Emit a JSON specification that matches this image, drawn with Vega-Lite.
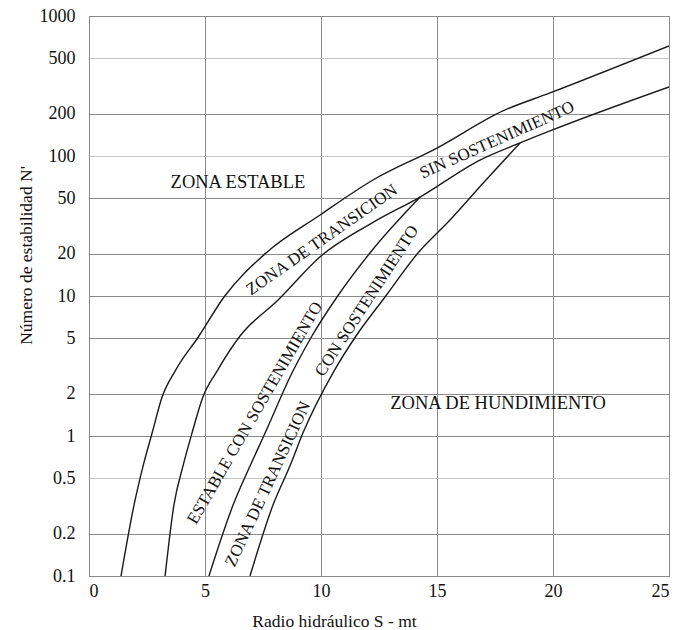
{
  "$schema": "https://vega.github.io/schema/vega-lite/v6.json",
  "autosize": {"type": "none"},
  "width": 580,
  "height": 560,
  "padding": {"left": 89, "top": 16, "right": 7, "bottom": 54},
  "background": "white",
  "config": {
    "font": "Liberation Serif",
    "view": {"stroke": "#666666", "strokeWidth": 1},
    "axis": {
      "labelFont": "Liberation Serif",
      "titleFont": "Liberation Serif",
      "labelFontSize": 18,
      "titleFontSize": 17.5,
      "labelColor": "#111111",
      "titleColor": "#111111",
      "titleFontWeight": "normal",
      "ticks": false,
      "domain": false,
      "gridColor": "#8a8a8a",
      "gridWidth": 1,
      "gridOpacity": 1
    }
  },
  "datasets": {
    "curves": [
      {"curve": "A", "i": 1, "x": 1.38, "y": 0.1},
      {"curve": "A", "i": 2, "x": 1.94, "y": 0.321},
      {"curve": "A", "i": 3, "x": 2.33, "y": 0.61},
      {"curve": "A", "i": 4, "x": 2.72, "y": 1.05},
      {"curve": "A", "i": 5, "x": 3.15, "y": 1.9},
      {"curve": "A", "i": 6, "x": 3.71, "y": 2.91},
      {"curve": "A", "i": 7, "x": 4.74, "y": 5.18},
      {"curve": "A", "i": 8, "x": 5.82, "y": 9.84},
      {"curve": "A", "i": 9, "x": 7.63, "y": 20.3},
      {"curve": "A", "i": 10, "x": 9.96, "y": 37.9},
      {"curve": "A", "i": 11, "x": 12.24, "y": 67.4},
      {"curve": "A", "i": 12, "x": 15.0, "y": 114},
      {"curve": "A", "i": 13, "x": 17.84, "y": 210},
      {"curve": "A", "i": 14, "x": 19.87, "y": 282},
      {"curve": "A", "i": 15, "x": 25.0, "y": 611},
      {"curve": "B", "i": 1, "x": 3.28, "y": 0.1},
      {"curve": "B", "i": 2, "x": 3.66, "y": 0.321},
      {"curve": "B", "i": 3, "x": 4.05, "y": 0.61},
      {"curve": "B", "i": 4, "x": 4.44, "y": 1.05},
      {"curve": "B", "i": 5, "x": 4.91, "y": 1.9},
      {"curve": "B", "i": 6, "x": 5.52, "y": 2.91},
      {"curve": "B", "i": 7, "x": 6.51, "y": 5.18},
      {"curve": "B", "i": 8, "x": 8.15, "y": 9.36},
      {"curve": "B", "i": 9, "x": 10.0, "y": 19.3},
      {"curve": "B", "i": 10, "x": 12.28, "y": 33.8},
      {"curve": "B", "i": 11, "x": 14.27, "y": 50.9},
      {"curve": "B", "i": 12, "x": 16.85, "y": 93.6},
      {"curve": "B", "i": 13, "x": 18.58, "y": 124},
      {"curve": "B", "i": 14, "x": 19.87, "y": 151},
      {"curve": "B", "i": 15, "x": 25.0, "y": 311},
      {"curve": "C", "i": 1, "x": 5.17, "y": 0.1},
      {"curve": "C", "i": 2, "x": 6.21, "y": 0.321},
      {"curve": "C", "i": 3, "x": 6.94, "y": 0.61},
      {"curve": "C", "i": 4, "x": 7.59, "y": 1.05},
      {"curve": "C", "i": 5, "x": 8.79, "y": 2.91},
      {"curve": "C", "i": 6, "x": 9.61, "y": 5.18},
      {"curve": "C", "i": 7, "x": 10.69, "y": 9.84},
      {"curve": "C", "i": 8, "x": 12.11, "y": 20.3},
      {"curve": "C", "i": 9, "x": 14.27, "y": 50.9},
      {"curve": "D", "i": 1, "x": 6.94, "y": 0.1},
      {"curve": "D", "i": 2, "x": 7.93, "y": 0.321},
      {"curve": "D", "i": 3, "x": 8.66, "y": 0.61},
      {"curve": "D", "i": 4, "x": 9.22, "y": 1.05},
      {"curve": "D", "i": 5, "x": 10.56, "y": 2.91},
      {"curve": "D", "i": 6, "x": 11.51, "y": 5.18},
      {"curve": "D", "i": 7, "x": 12.76, "y": 9.84},
      {"curve": "D", "i": 8, "x": 14.18, "y": 20.3},
      {"curve": "D", "i": 9, "x": 15.56, "y": 34.9},
      {"curve": "D", "i": 10, "x": 17.07, "y": 66.2},
      {"curve": "D", "i": 11, "x": 18.58, "y": 124}
    ],
    "labels": [
      {"id": "estable", "text": "ZONA ESTABLE", "x": 6.42, "y": 65.2},
      {"id": "hundimiento", "text": "ZONA DE HUNDIMIENTO", "x": 17.63, "y": 1.72},
      {"id": "trans1", "text": "ZONA DE TRANSICION", "x": 10.04, "y": 25.1},
      {"id": "sin", "text": "SIN SOSTENIMIENTO", "x": 17.59, "y": 130},
      {"id": "estcon", "text": "ESTABLE CON SOSTENIMIENTO", "x": 7.16, "y": 1.46},
      {"id": "trans2", "text": "ZONA DE TRANSICION", "x": 7.72, "y": 0.454},
      {"id": "con", "text": "CON SOSTENIMIENTO", "x": 11.98, "y": 9.2}
    ]
  },
  "encoding": {
    "x": {
      "field": "x", "type": "quantitative",
      "scale": {"domain": [0, 25], "nice": false, "zero": false},
      "axis": {
        "values": [0, 5, 10, 15, 20, 25],
        "title": "Radio hidráulico S - mt",
        "labelPadding": 6,
        "titleX": 245, "titleY": 50,
        "titleBaseline": "alphabetic",
        "titleAlign": "center"
      }
    },
    "y": {
      "field": "y", "type": "quantitative",
      "scale": {"type": "log", "domain": [0.1, 1000], "nice": false},
      "axis": {
        "values": [0.1, 0.2, 0.5, 1, 2, 5, 10, 20, 50, 100, 200, 500, 1000],
        "labelExpr": "'' + datum.value",
        "labelPadding": 14,
        "gridColor": {"condition": {"test": "datum.value == 500 || datum.value == 100 || datum.value == 0.5", "value": "#c4c4c4"}, "value": "#8a8a8a"},
        "title": "Número de estabilidad N'",
        "titleX": -63, "titleY": 239,
        "titleAngle": 270,
        "titleBaseline": "middle",
        "titleAlign": "center"
      }
    }
  },
  "layer": [
    {
      "data": {"name": "curves"},
      "mark": {"type": "line", "color": "#1a1a1a", "strokeWidth": 1.4, "interpolate": "monotone", "clip": true},
      "encoding": {
        "detail": {"field": "curve", "type": "nominal"},
        "order": {"field": "i", "type": "quantitative"}
      }
    },
    {
      "data": {"name": "labels"},
      "transform": [{"filter": "datum.id == 'estable' || datum.id == 'hundimiento'"}],
      "mark": {"type": "text", "fontSize": 18.5, "font": "Liberation Serif", "color": "#111111", "align": "center", "baseline": "middle"},
      "encoding": {"text": {"field": "text"}}
    },
    {
      "data": {"name": "labels"},
      "transform": [{"filter": "datum.id == 'trans1'"}],
      "mark": {"type": "text", "fontSize": 17, "font": "Liberation Serif", "color": "#111111", "align": "center", "baseline": "middle", "angle": 325},
      "encoding": {"text": {"field": "text"}}
    },
    {
      "data": {"name": "labels"},
      "transform": [{"filter": "datum.id == 'sin'"}],
      "mark": {"type": "text", "fontSize": 17, "font": "Liberation Serif", "color": "#111111", "align": "center", "baseline": "middle", "angle": 336},
      "encoding": {"text": {"field": "text"}}
    },
    {
      "data": {"name": "labels"},
      "transform": [{"filter": "datum.id == 'estcon'"}],
      "mark": {"type": "text", "fontSize": 17, "font": "Liberation Serif", "color": "#111111", "align": "center", "baseline": "middle", "angle": 300},
      "encoding": {"text": {"field": "text"}}
    },
    {
      "data": {"name": "labels"},
      "transform": [{"filter": "datum.id == 'trans2'"}],
      "mark": {"type": "text", "fontSize": 17, "font": "Liberation Serif", "color": "#111111", "align": "center", "baseline": "middle", "angle": 295},
      "encoding": {"text": {"field": "text"}}
    },
    {
      "data": {"name": "labels"},
      "transform": [{"filter": "datum.id == 'con'"}],
      "mark": {"type": "text", "fontSize": 17, "font": "Liberation Serif", "color": "#111111", "align": "center", "baseline": "middle", "angle": 303},
      "encoding": {"text": {"field": "text"}}
    }
  ]
}
